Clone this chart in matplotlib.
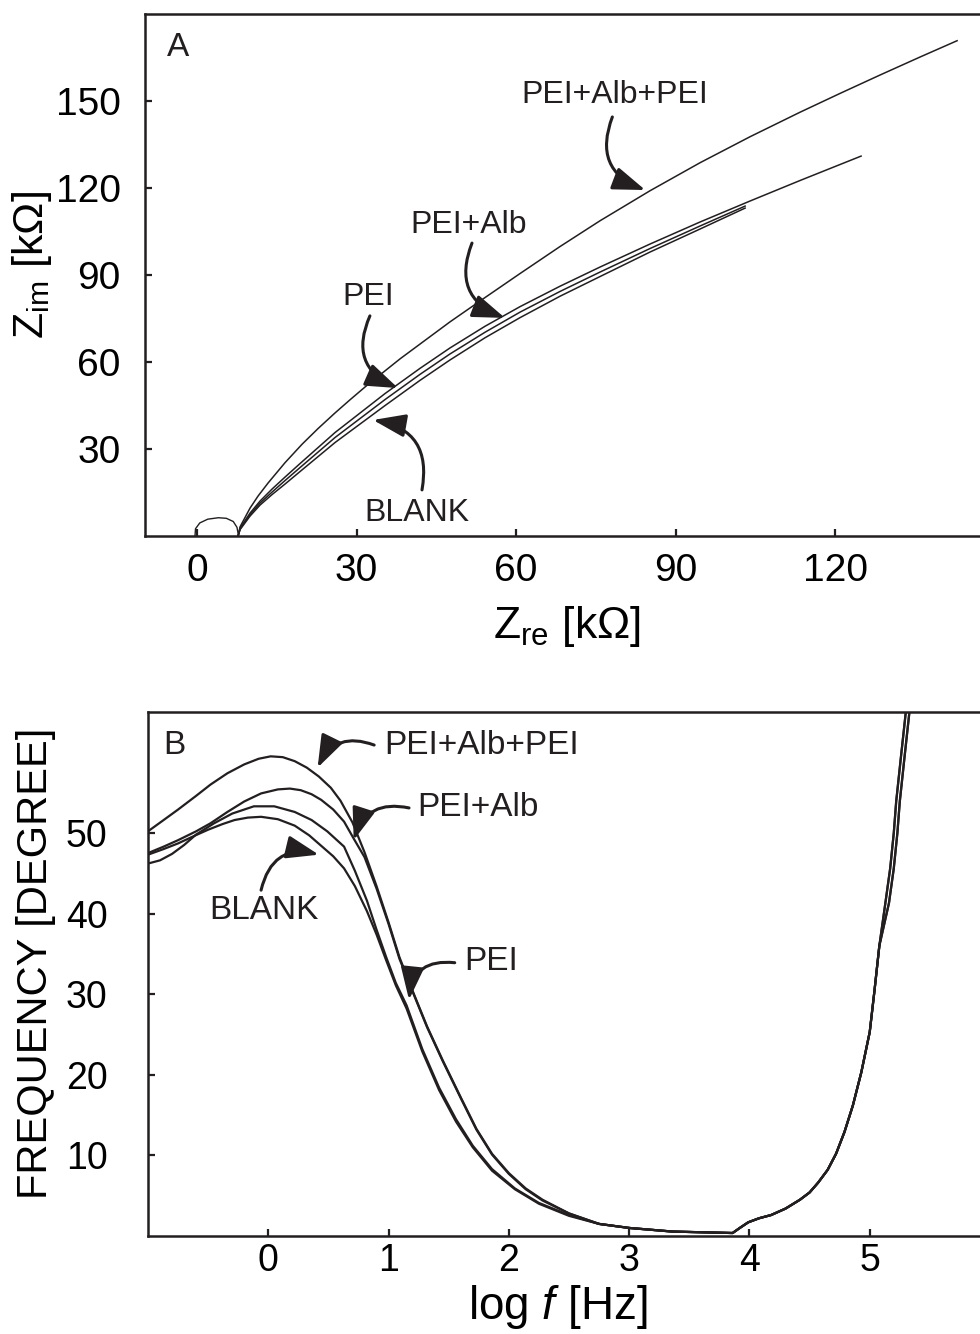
import matplotlib.pyplot as plt

plt.rcParams['font.family'] = ['Liberation Sans', 'DejaVu Sans']
plt.rcParams['mathtext.fontset'] = 'custom'
plt.rcParams['mathtext.rm'] = 'Liberation Sans'
plt.rcParams['mathtext.it'] = 'Liberation Sans:italic'

INK = '#231f20'

# --- A: Nyquist plots, Zre / Zim in kOhm ---
loop_re = [-0.4, -0.3, 0.5, 2.0, 4.0, 5.5, 6.8, 7.5, 7.8]
loop_im = [0.0, 2.5, 4.5, 5.8, 6.3, 6.1, 5.0, 3.0, 0.0]

blank_re = [7.71, 8.09, 9.97, 11.85, 14.11, 16.55, 19.37, 25.95, 35.36, 41.94,
            47.58, 54.17, 60.75, 68.27, 75.80, 85.20, 94.60, 103.07]
blank_im = [0.0, 2.24, 6.90, 10.69, 14.31, 17.93, 22.24, 32.24, 45.0, 53.69,
            60.72, 68.38, 75.31, 82.69, 89.48, 97.93, 105.86, 113.07]

pei_re = [7.71, 8.09, 9.97, 11.85, 14.11, 16.55, 19.37, 25.95, 35.36, 41.94,
          47.58, 54.17, 60.75, 68.27, 75.80, 85.20, 94.60, 103.07]
pei_im = [0.0, 2.41, 7.41, 11.38, 15.17, 19.14, 23.62, 33.97, 47.07, 55.76,
          62.79, 70.28, 77.21, 84.34, 91.03, 99.14, 106.90, 113.76]

alb_re = [7.71, 8.09, 9.97, 11.85, 14.11, 16.55, 19.37, 25.95, 35.36, 41.94,
          47.58, 54.17, 60.75, 68.27, 75.80, 85.20, 94.60, 104.01, 113.41, 124.88]
alb_im = [0.0, 2.76, 7.93, 12.07, 16.21, 20.34, 25.0, 35.69, 49.14, 57.83,
          64.86, 72.34, 79.10, 86.14, 92.76, 100.69, 108.28, 115.52, 122.59, 131.0]

lbl_re = [7.71, 8.09, 9.97, 11.47, 13.35, 16.55, 19.75, 22.76, 25.95, 28.78,
          32.16, 38.18, 47.58, 54.17, 60.75, 68.27, 75.80, 85.20, 94.60, 104.01,
          113.41, 120.93, 128.46, 135.98, 142.94]
lbl_im = [0.0, 3.21, 9.66, 13.79, 18.28, 25.31, 31.66, 37.07, 42.45, 47.0,
          52.28, 61.10, 73.86, 82.24, 90.52, 99.83, 108.72, 119.07, 128.72, 137.69,
          146.14, 152.62, 158.97, 165.17, 170.79]

# --- B: phase angle vs log f ---
tail_f = [2.75, 3.0, 3.36, 3.86, 3.92, 3.99, 4.08, 4.18, 4.30, 4.42, 4.50, 4.57,
          4.65, 4.72, 4.79, 4.86, 4.93, 5.0, 5.04, 5.08]
tail_ph = [1.5, 1.0, 0.55, 0.37, 1.0, 1.7, 2.2, 2.6, 3.4, 4.5, 5.4, 6.6,
           8.2, 10.2, 12.9, 16.2, 20.3, 25.3, 30.5, 36.0]

logf_blank = [-1.0, -0.87, -0.75, -0.62, -0.5, -0.38, -0.28, -0.17, -0.06, 0.08,
              0.22, 0.34, 0.44, 0.54, 0.63, 0.72, 0.82, 0.9, 0.98, 1.06,
              1.15, 1.28, 1.42, 1.56, 1.7, 1.86, 2.05, 2.25, 2.5] + tail_f + \
             [5.13, 5.17, 5.2, 5.22, 5.26, 5.3, 5.35]
ph_blank = [47.3, 48.0, 48.7, 49.6, 50.4, 51.1, 51.6, 51.9, 52.0, 51.7,
            50.9, 49.7, 48.4, 47.1, 45.6, 43.4, 40.3, 37.4, 34.2, 31.1,
            28.2, 22.9, 18.1, 14.2, 11.0, 8.1, 5.8, 4.0, 2.5] + tail_ph + \
           [41.3, 45.6, 50.0, 53.9, 59.5, 65.0, 72.0]

logf_pei = [-1.0, -0.9, -0.8, -0.7, -0.6, -0.45, -0.3, -0.12, 0.05, 0.22,
            0.36, 0.49, 0.63, 0.72, 0.82, 0.9, 0.98, 1.06, 1.15, 1.28,
            1.42, 1.56, 1.7, 1.86, 2.05, 2.25, 2.5] + tail_f + \
           [5.13, 5.17, 5.2, 5.22, 5.26, 5.3, 5.35]
ph_pei = [46.2, 46.6, 47.4, 48.5, 49.8, 51.2, 52.4, 53.3, 53.3, 52.6,
          51.6, 50.2, 48.3, 45.3, 41.6, 38.0, 34.6, 31.4, 28.6, 23.2,
          18.4, 14.5, 11.2, 8.3, 5.9, 4.1, 2.6] + tail_ph + \
         [41.3, 45.6, 50.0, 53.9, 59.5, 65.0, 72.0]

logf_alb = [-1.0, -0.87, -0.75, -0.6, -0.48, -0.34, -0.2, -0.06, 0.08, 0.18,
            0.27, 0.36, 0.44, 0.54, 0.63, 0.71, 0.8, 0.9, 1.0, 1.09,
            1.2, 1.32, 1.45, 1.6, 1.73, 1.86, 2.0, 2.14, 2.28, 2.5] + tail_f + \
           [5.16, 5.2, 5.23, 5.25, 5.29, 5.33, 5.38]
ph_alb = [47.5, 48.3, 49.1, 50.2, 51.2, 52.6, 53.9, 54.9, 55.4, 55.5,
          55.3, 54.8, 54.1, 52.9, 51.4, 49.3, 47.0, 43.1, 38.7, 34.4,
          30.3, 25.9, 21.7, 17.1, 13.2, 10.1, 7.7, 5.8, 4.4, 2.8] + tail_ph + \
         [41.3, 45.6, 50.0, 53.9, 59.5, 65.0, 72.0]

logf_lbl = [-1.0, -0.87, -0.75, -0.6, -0.48, -0.34, -0.2, -0.08, 0.02, 0.12,
            0.22, 0.32, 0.42, 0.52, 0.6, 0.7, 0.8, 0.9, 1.0, 1.09,
            1.2, 1.32, 1.45, 1.6, 1.73, 1.86, 2.0, 2.14, 2.28, 2.5] + tail_f + \
           [5.16, 5.2, 5.23, 5.25, 5.29, 5.33, 5.38]
ph_lbl = [50.2, 51.6, 52.9, 54.6, 56.0, 57.4, 58.5, 59.2, 59.5, 59.4,
          58.9, 58.1, 57.0, 55.6, 54.0, 51.3, 47.6, 43.4, 38.9, 34.6,
          30.4, 26.0, 21.8, 17.2, 13.3, 10.2, 7.8, 5.9, 4.5, 2.8] + tail_ph + \
         [41.3, 45.6, 50.0, 53.9, 59.5, 65.0, 72.0]

fig = plt.figure(figsize=(9.8, 13.34), dpi=100)
ax1 = fig.add_axes([145 / 980, 1 - 536 / 1334, 839 / 980, 522 / 1334])
ax2 = fig.add_axes([148 / 980, 1 - 1236 / 1334, 836 / 980, 524 / 1334])


def style_axes(ax, xticks, yticks, size, xpad, ypad):
    for side in ['left', 'bottom', 'top']:
        ax.spines[side].set_linewidth(1.8)
        ax.spines[side].set_color(INK)
    ax.spines['right'].set_visible(False)
    ax.set_xticks(xticks)
    ax.set_yticks(yticks)
    ax.tick_params(direction='in', length=5, width=1.6, color=INK,
                   labelsize=size, labelcolor='black')
    ax.tick_params(axis='x', pad=xpad)
    ax.tick_params(axis='y', pad=ypad)


def pointer(ax, text_xy, start, tip, rad, label, ha='center', size=23):
    ax.annotate('', xy=tip, xytext=start,
                arrowprops=dict(arrowstyle='-|>,head_length=0.9,head_width=0.32',
                                connectionstyle='arc3,rad=%s' % rad,
                                lw=2.2, color=INK, shrinkA=0, shrinkB=0,
                                mutation_scale=22))
    ax.text(text_xy[0], text_xy[1], label, ha=ha, va='center', fontsize=size,
            color=INK)


# panel A
ax1.plot(loop_re, loop_im, color=INK, lw=1.0)
ax1.plot(blank_re, blank_im, color=INK, lw=1.1)
ax1.plot(pei_re, pei_im, color=INK, lw=1.1)
ax1.plot(alb_re, alb_im, color=INK, lw=1.1)
ax1.plot(lbl_re, lbl_im, color=INK, lw=1.1)
ax1.set_xlim(-9.8, 148)
ax1.set_ylim(0, 180)
style_axes(ax1, [0, 30, 60, 90, 120], [30, 60, 90, 120, 150], 28, 12, 17.5)
ax1.set_xlabel(r'Z$_{\mathrm{re}}$ [k$\Omega$]', fontsize=32)
ax1.xaxis.set_label_coords(0.503, -0.13)
ax1.set_ylabel(r'Z$_{\mathrm{im}}$ [k$\Omega$]', fontsize=31)
ax1.yaxis.set_label_coords(-0.108, 0.52)
ax1.text(-3.6, 168.6, 'A', ha='center', va='center', fontsize=24, color=INK)

pointer(ax1, (78.6, 152), (78.1, 144.5), (84.3, 119.3), 0.5, 'PEI+Alb+PEI')
pointer(ax1, (51.0, 107.2), (51.7, 101.0), (57.9, 75.2), 0.5, 'PEI+Alb')
pointer(ax1, (32.2, 82.4), (32.5, 75.9), (37.8, 51.0), 0.5, 'PEI')
pointer(ax1, (41.4, 7.9), (42.3, 15.9), (33.1, 40.0), 0.5, 'BLANK')

# panel B
ax2.plot(logf_blank, ph_blank, color=INK, lw=1.6)
ax2.plot(logf_pei, ph_pei, color=INK, lw=1.6)
ax2.plot(logf_alb, ph_alb, color=INK, lw=1.6)
ax2.plot(logf_lbl, ph_lbl, color=INK, lw=1.6)
ax2.set_xlim(-1, 5.95)
ax2.set_ylim(0, 65)
style_axes(ax2, [0, 1, 2, 3, 4, 5], [10, 20, 30, 40, 50], 27, 5, 29)
ax2.set_xlabel(r'log $f$ [Hz]', fontsize=33)
ax2.xaxis.set_label_coords(0.49, -0.09)
ax2.set_ylabel('FREQUENCY [DEGREE]', fontsize=30)
ax2.yaxis.set_label_coords(-0.11, 0.52)
ax2.text(-0.78, 60.9, 'B', ha='center', va='center', fontsize=24, color=INK)

pointer(ax2, (0.96, 60.9), (0.88, 60.9), (0.41, 58.1), 0.45, 'PEI+Alb+PEI', ha='left', size=24)
pointer(ax2, (1.24, 53.1), (1.17, 53.1), (0.71, 49.1), 0.45, 'PEI+Alb', ha='left', size=24)
pointer(ax2, (-0.04, 40.4), (-0.06, 42.9), (0.42, 47.3), -0.5, 'BLANK', size=24)
pointer(ax2, (1.63, 34.0), (1.55, 33.9), (1.17, 29.3), 0.5, 'PEI', ha='left', size=24)

fig.savefig('out.png', dpi=100, facecolor='white')
